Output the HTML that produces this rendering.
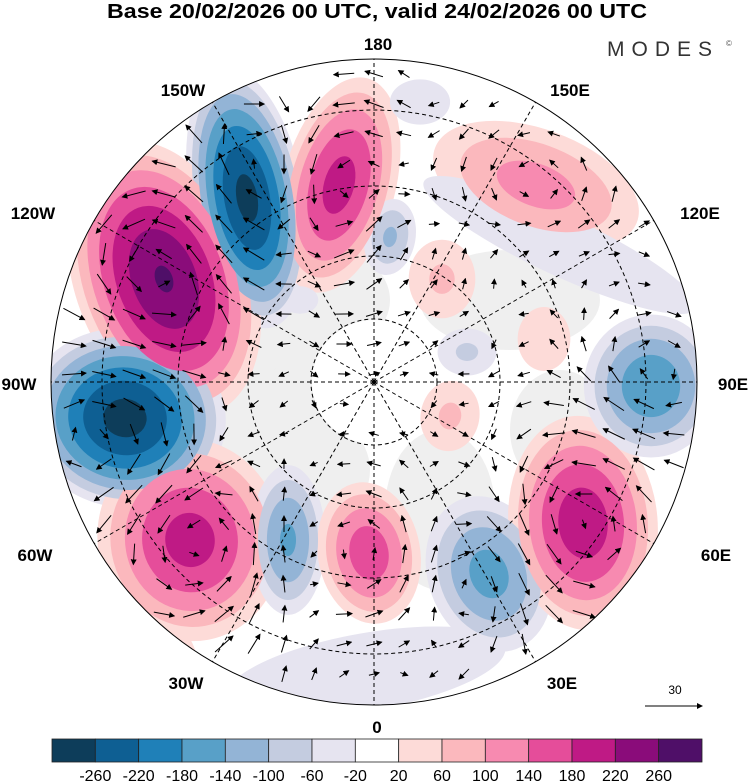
<!DOCTYPE html>
<html><head><meta charset="utf-8"><style>
body{margin:0;background:#fff;width:750px;height:783px;overflow:hidden;font-family:"Liberation Sans",sans-serif}
svg{display:block}
</style></head><body>
<svg id="map" width="750" height="783" viewBox="0 0 750 783" xmlns="http://www.w3.org/2000/svg">
<defs><clipPath id="disc"><circle cx="374" cy="382" r="323"/></clipPath>
<marker id="ah" markerWidth="6" markerHeight="6" refX="5" refY="3" orient="auto"><path d="M0,0 L6,3 L0,6 Z" fill="#000"/></marker></defs>
<text x="377" y="18" text-anchor="middle" font-size="20" font-weight="bold" textLength="540" lengthAdjust="spacingAndGlyphs">Base 20/02/2026 00 UTC, valid 24/02/2026 00 UTC</text>
<text x="607" y="56" font-size="21" fill="#333" letter-spacing="7">MODES</text>
<text x="726" y="46" font-size="8" fill="#555">©</text>
<g id="field" clip-path="url(#disc)"></g>
<g id="grid" clip-path="url(#disc)"></g>
<g id="arrows" clip-path="url(#disc)"></g>
<circle cx="374" cy="382" r="323" fill="none" stroke="#000" stroke-width="1"/>
<g id="labels" font-size="17" font-weight="bold" text-anchor="middle"></g>
<g id="cbar"></g>
<text x="675" y="694" font-size="12" text-anchor="middle">30</text>
<line x1="645" y1="706" x2="702" y2="706" stroke="#000" stroke-width="1" marker-end="url(#ah)"/>
</svg>
<script>
const levels=[-260,-220,-180,-140,-100,-60,-20,20,60,100,140,180,220,260];
const colors=["#0d3d5a","#0e5f93","#1f80b8","#58a0c8","#93b4d6","#c4cce0","#e6e4f0","#ffffff","#fddbd8","#fbb8bd","#f78ab0","#e54d9a","#bf1a85","#8a0c7a","#4f0f68"];
// anomaly centres: x, y, rx, ry, rotation, peak value
const vxs=[247,164,339,390,125,190,288,369,489,583,651,536,442,544,467,450,420,366,560,300,150];
const vys=[198,279,185,237,418,540,540,553,574,523,386,185,279,339,352,416,102,672,245,300,640];
const vrx=[50,78,50,24,88,82,34,46,55,66,60,100,34,28,30,30,32,160,170,40,70];
const vry=[115,125,98,36,78,90,68,64,72,95,64,52,40,34,24,36,24,44,34,30,40];
const vrot=[-10,-20,15,10,8,-10,0,-10,-20,-5,0,20,0,0,0,10,0,-10,25,0,40];
const vpk=[-275,265,200,-110,-280,200,-150,170,-160,210,-180,120,70,60,-70,70,-60,-50,-50,-25,40];
// light grey land areas: x, y, rx, ry
const gxs=[265,300,510,440,330,560,250];
const gys=[390,470,300,510,300,430,330];
const grx=[90,70,90,55,60,50,40];
const gry=[80,60,50,80,50,60,50];
const svg="http://www.w3.org/2000/svg";
const C={x:374,y:382,r:323};
function mk(t,a,p){const e=document.createElementNS(svg,t);for(const k in a)e.setAttribute(k,a[k]);p.appendChild(e);return e;}
const field=document.getElementById('field');
const bg=mk('circle',{cx:C.x,cy:C.y,r:C.r,fill:'#ffffff'},field);


for(let k=0;k<gxs.length;k++){const e=mk('ellipse',{cx:gxs[k],cy:gys[k],rx:grx[k],ry:gry[k],fill:'#efefef'},field);

}
const pole=mk('circle',{cx:C.x,cy:C.y,r:62,fill:'#ffffff'},field);


function colorIdx(v){let i=0;while(i<levels.length&&v>=levels[i])i++;return i;}
for(let L=20;L<300;L+=40){
  for(let k=0;k<vxs.length;k++){
    const pk=vpk[k],a=Math.abs(pk),s=Math.sign(pk);
    if(L>=a)continue;
    const f=Math.pow(1-L/a,0.6)*1.2;
    const e=mk('ellipse',{cx:0,cy:0,rx:vrx[k]*f,ry:vry[k]*f,fill:colors[colorIdx(s*(L+1))],transform:`translate(${vxs[k]},${vys[k]}) rotate(${vrot[k]})`},field);
    
    
  }
}
const grid=document.getElementById('grid');
[63,126,196,272].forEach(r=>{const c=mk('circle',{cx:C.x,cy:C.y,r:r,fill:'none',stroke:'#000','stroke-width':1,'stroke-dasharray':'4,3'},grid);

});
for(let d=0;d<360;d+=30){const t=d*Math.PI/180;const l=mk('line',{x1:C.x,y1:C.y,x2:C.x+C.r*Math.sin(t),y2:C.y-C.r*Math.cos(t),stroke:'#000','stroke-width':1,'stroke-dasharray':'4,3'},grid);

}
const ar=document.getElementById('arrows');
for(let y=C.y-C.r+15;y<C.y+C.r;y+=30){for(let x=C.x-C.r+15;x<C.x+C.r;x+=30){
  const ox=x+((y/30)%2?8:0);
  if(Math.hypot(ox-C.x,y-C.y)>C.r-10)continue;
  let u=0,v=0;
  for(let k=0;k<vxs.length;k++){const dx=(ox-vxs[k])/vrx[k],dy=(y-vys[k])/vry[k];const d2=dx*dx+dy*dy;const w=vpk[k]/200*Math.exp(-d2*0.6);
    u+=w*dy*vry[k]/60;v+=-w*dx*vrx[k]/60;}
  const m=Math.hypot(u,v);if(m<0.05)continue;
  const L=Math.min(24,7+m*18);
  const l=mk('line',{x1:ox-u/m*L/2,y1:y-v/m*L/2,x2:ox+u/m*L/2,y2:y+v/m*L/2,stroke:'#000','stroke-width':1,'marker-end':'url(#ah)'},ar);
  
  
}}
const lab=document.getElementById('labels');
[["180",378,50],["150W",183,96],["150E",570,96],["120W",33,219],["120E",700,219],["90W",19,390],["90E",733,390],["60W",35,561],["60E",716,561],["30W",186,689],["30E",562,689],["0",377,733]].forEach(a=>{
  const t=mk('text',{x:a[1],y:a[2]},lab);t.textContent=a[0];
  
  });
const cb=document.getElementById('cbar');const bw=650/15;
colors.forEach((c,i)=>{const r=mk('rect',{x:52+i*bw,y:739,width:bw,height:23,fill:c,stroke:'#222','stroke-width':0.8},cb);

});
levels.forEach((v,i)=>{const t=mk('text',{x:52+(i+1)*bw,y:781,'font-size':16,'text-anchor':'middle'},cb);t.textContent=v;

});
</script>
</body></html>
